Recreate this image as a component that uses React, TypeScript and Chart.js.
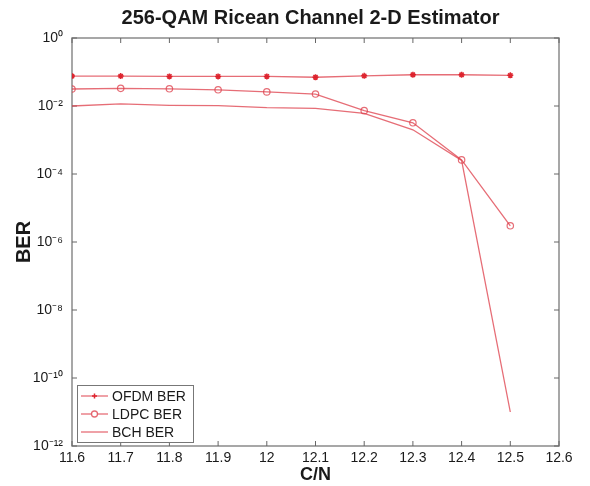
import React, { useEffect, useRef } from "react";
import { Chart, registerables } from "chart.js";

Chart.register(...registerables);

const TITLE = "256-QAM Ricean Channel 2-D Estimator";
const X_LABEL = "C/N";
const Y_LABEL = "BER";
const CN_VALUES = [11.6, 11.7, 11.8, 11.9, 12.0, 12.1, 12.2, 12.3, 12.4, 12.5];
const OFDM_BER = [0.076, 0.076, 0.074, 0.074, 0.074, 0.07, 0.077, 0.083, 0.083, 0.08];
const LDPC_BER = [0.0316, 0.033, 0.032, 0.03, 0.026, 0.0225, 0.0073, 0.0032, 0.00026, 3e-6];
const BCH_BER = [0.01, 0.0115, 0.0105, 0.0102, 0.0089, 0.0085, 0.0061, 0.002, 0.00025, 1e-11];
const X_TICKS = [11.6, 11.7, 11.8, 11.9, 12.0, 12.1, 12.2, 12.3, 12.4, 12.5, 12.6];
const Y_TICKS = [1, 1e-2, 1e-4, 1e-6, 1e-8, 1e-10, 1e-12];
const SERIES_LABELS = ["OFDM BER", "LDPC BER", "BCH BER"];

const FONT = "Arial, 'Liberation Sans', Helvetica, sans-serif";
const LINE_COLOR = "rgba(222, 60, 72, 0.75)";
const MARK_COLOR = "rgba(220, 30, 40, 0.95)";
const AXIS_COLOR = "#8a8a8a";
const TEXT_COLOR = "#1a1a1a";

const SUP: Record<string, string> = {
  "0": "\u2070", "1": "\u00b9", "2": "\u00b2", "3": "\u00b3", "4": "\u2074",
  "5": "\u2075", "6": "\u2076", "7": "\u2077", "8": "\u2078", "9": "\u2079", "-": "\u207b",
};
const sup = (s: string) => s.split("").map((c) => SUP[c] ?? c).join("");

const frame = {
  id: "frameTicks",
  beforeDatasetsDraw(chart: any) {
    const { ctx, chartArea: a, scales } = chart;
    ctx.save();
    ctx.strokeStyle = AXIS_COLOR;
    ctx.lineWidth = 1.5;
    ctx.strokeRect(a.left, a.top, a.right - a.left, a.bottom - a.top);
    ctx.lineWidth = 1;
    ctx.strokeStyle = "#666";
    const L = 5;
    ctx.beginPath();
    X_TICKS.forEach((v) => {
      const px = scales.x.getPixelForValue(v);
      ctx.moveTo(px, a.bottom); ctx.lineTo(px, a.bottom - L);
      ctx.moveTo(px, a.top); ctx.lineTo(px, a.top + L);
    });
    Y_TICKS.forEach((v) => {
      const py = scales.y.getPixelForValue(v);
      ctx.moveTo(a.left, py); ctx.lineTo(a.left + L, py);
      ctx.moveTo(a.right, py); ctx.lineTo(a.right - L, py);
    });
    ctx.stroke();
    ctx.restore();
  },
  afterDraw(chart: any) {
    const { ctx, chartArea: a } = chart;
    const bx = a.left + 5, by = a.bottom - 61, bw = 116, bh = 57;
    ctx.save();
    ctx.fillStyle = "#fff";
    ctx.fillRect(bx, by, bw, bh);
    ctx.strokeStyle = "#777";
    ctx.lineWidth = 1;
    ctx.strokeRect(bx + 0.5, by + 0.5, bw, bh);
    chart.data.datasets.forEach((ds: any, i: number) => {
      const y = by + 11 + i * 18;
      const x0 = bx + 4, x1 = bx + 31, xm = (x0 + x1) / 2;
      ctx.strokeStyle = LINE_COLOR;
      ctx.lineWidth = 1.3;
      ctx.beginPath(); ctx.moveTo(x0, y); ctx.lineTo(x1, y); ctx.stroke();
      if (i === 0) {
        ctx.strokeStyle = MARK_COLOR;
        ctx.lineWidth = 1.5;
        ctx.beginPath();
        ctx.moveTo(xm - 2.5, y); ctx.lineTo(xm + 2.5, y);
        ctx.moveTo(xm, y - 2.5); ctx.lineTo(xm, y + 2.5);
        ctx.stroke();
      } else if (i === 1) {
        ctx.fillStyle = "#fff";
        ctx.beginPath(); ctx.arc(xm, y, 3, 0, Math.PI * 2); ctx.fill(); ctx.stroke();
      }
      ctx.fillStyle = TEXT_COLOR;
      ctx.font = `14px ${FONT}`;
      ctx.textBaseline = "middle";
      ctx.textAlign = "left";
      ctx.fillText(ds.label, x1 + 4, y + 1);
    });
    ctx.restore();
  },
};

export default function App() {
  const ref = useRef<HTMLCanvasElement>(null);
  useEffect(() => {
    if (!ref.current) return;
    const mk = (vals: number[]) => CN_VALUES.map((x, i) => ({ x, y: vals[i] }));
    const chart = new Chart(ref.current, {
      type: "line",
      data: {
        datasets: [
          {
            label: SERIES_LABELS[0], data: mk(OFDM_BER), borderColor: LINE_COLOR, borderWidth: 1.3,
            pointStyle: "star", pointRadius: 3, pointBorderColor: MARK_COLOR, pointBorderWidth: 1.5,
            pointBackgroundColor: MARK_COLOR,
          },
          {
            label: SERIES_LABELS[1], data: mk(LDPC_BER), borderColor: LINE_COLOR, borderWidth: 1.3,
            pointStyle: "circle", pointRadius: 3.2, pointBorderColor: LINE_COLOR, pointBorderWidth: 1.2,
            pointBackgroundColor: "rgba(255,255,255,0)",
          },
          {
            label: SERIES_LABELS[2], data: mk(BCH_BER), borderColor: LINE_COLOR, borderWidth: 1.3,
            pointRadius: 0,
          },
        ],
      },
      options: {
        responsive: false,
        animation: false,
        layout: { padding: { left: 31, right: 0, top: 0, bottom: 0 } },
        plugins: {
          legend: { display: false },
          tooltip: { enabled: false },
          title: {
            display: true, text: TITLE, color: TEXT_COLOR,
            font: { family: FONT, size: 20, weight: "bold" },
            padding: { top: 6, bottom: 8 },
          },
        },
        scales: {
          x: {
            type: "linear", min: 11.6, max: 12.6,
            afterBuildTicks: (s: any) => { s.ticks = X_TICKS.map((v) => ({ value: v })); },
            afterFit: (s: any) => { s.height = 40; },
            grid: { display: false, drawTicks: false }, border: { display: false },
            ticks: {
              color: TEXT_COLOR, font: { family: FONT, size: 14 }, padding: 4, maxRotation: 0, autoSkip: false,
              callback: (v: any) => String(parseFloat(Number(v).toFixed(1))),
            },
            title: {
              display: true, text: X_LABEL, color: TEXT_COLOR,
              font: { family: FONT, size: 18, weight: "bold" }, padding: { top: 0.5, bottom: 0 },
            },
          },
          y: {
            type: "logarithmic", min: 1e-12, max: 1,
            afterBuildTicks: (s: any) => { s.ticks = Y_TICKS.map((v) => ({ value: v })); },
            afterFit: (s: any) => { s.width = 41; },
            grid: { display: false, drawTicks: false }, border: { display: false },
            ticks: {
              color: TEXT_COLOR, font: { family: FONT, size: 14 }, padding: 9, autoSkip: false,
              callback: (v: any) => "10" + sup(String(Math.round(Math.log10(Number(v))))),
            },
            title: {
              display: true, text: Y_LABEL, color: TEXT_COLOR,
              font: { family: FONT, size: 20, weight: "bold" }, padding: { top: -19, bottom: 0 },
            },
          },
          yRight: {
            type: "linear", position: "right", display: true,
            afterFit: (s: any) => { s.width = 31; },
            grid: { display: false, drawTicks: false }, border: { display: false },
            ticks: { display: false },
          },
        },
      },
      plugins: [frame],
    } as any);
    return () => chart.destroy();
  }, []);
  return (
    <div style={{ position: "fixed", left: 0, top: 0, width: 590, height: 486, background: "#fff" }}>
      <canvas ref={ref} width={590} height={486} />
    </div>
  );
}
